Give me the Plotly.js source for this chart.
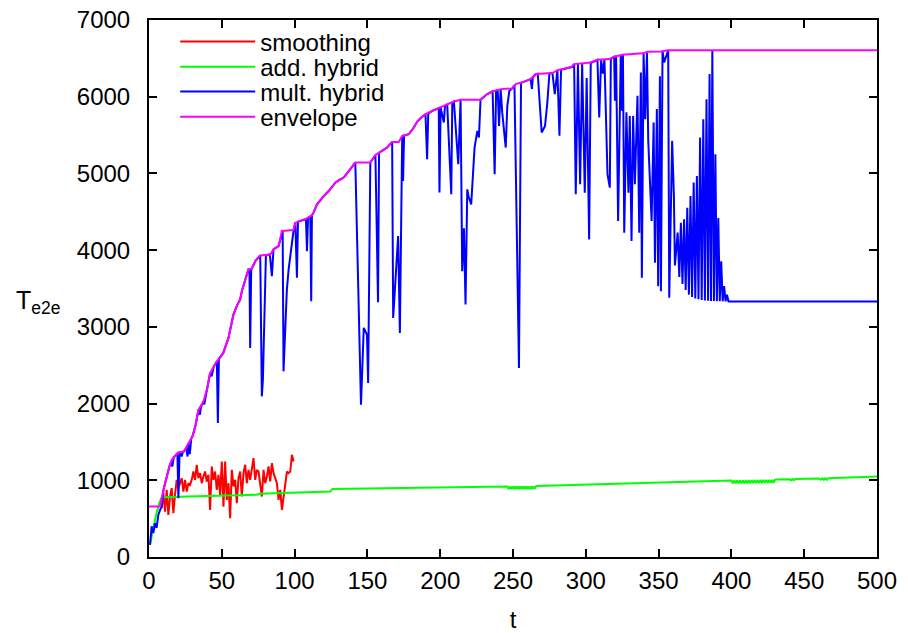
<!DOCTYPE html>
<html>
<head>
<meta charset="utf-8">
<script src="https://cdn.plot.ly/plotly-3.0.1.min.js"></script>
<style>html,body{margin:0;padding:0;background:#fff;}#chart{width:908px;height:633px;}</style>
</head>
<body>
<div id="chart"></div>
<script>
// smoothing (red): sampled from t0 with step dt
const smoothT0 = 8.7;
const smoothDt = 1.147;
const smoothV = [636,831,592,875,549,788,897,570,810,1006,897,962,1027,853,1006,853,962,940,1006,1114,
1006,1202,1027,1093,962,1049,1114,984,1071,614,1180,1006,1114,875,1071,810,1245,657,1245,744,
962,505,1136,919,1006,701,1027,1114,788,1093,1202,962,1136,1006,1158,1289,1006,1136,1114,962,
788,1136,962,1049,1180,984,1223,1093,1027,962,744,875,614,788,984,1114,1093,1114,1332,1245];

// add. hybrid (green)
const addT = [0.7,3,5,7,8.7,20,40,60,74,76,100,124.5,126,150,200,246,
246.9,247.8,248.7,249.6,250.5,251.4,252.3,253.2,254.1,255,255.9,256.8,257.7,258.6,259.5,260.4,261.3,262.2,263.1,264,264.9,265.8,
266.7,300,350,400,
401,402,403,404,405,406,407,408,409,410,411,412,413,414,415,416,417,418,419,420,421,422,423,424,425,426,427,428,429,430,
431,440,441,442,443,444,460,461.5,462.5,463.5,464.5,465.5,466.5,500];
const addV = [160,396,560,700,780,785,795,805,812,825,838,853,888,895,908,918,
885,918,885,918,885,918,885,918,885,918,885,919,886,919,886,920,887,920,887,921,888,922,
927,945,968,996,
960,997,960,998,961,998,961,999,962,1000,962,1000,963,1001,963,1002,964,1002,964,1003,965,1004,966,1004,966,1005,967,1006,968,1007,
1010,1014,1000,1015,1000,1016,1024,1006,1025,1007,1026,1007,1027,1049];

// mult. hybrid (blue)
const multT = [0.7,1.8,3,4.1,5.2,6.4,7.6,8.7,10,12,14,15,16,17,18.5,19.5,20.2,21,22,22.5,23.2,24,25.5,26.5,27,28,29,30,32,34,35,35.6,37.4,38,38.6,40,
42,43,43.6,44.5,46.6,47.3,48,51,54.6,56,58,60.5,62.6,64,66,68.3,69,69.5,70.2,70.6,73,76.4,77.5,78.2,80.3,83,84.4,85.5,89,91.3,91.8,92.4,93.2,94.7,95.9,98.2,99.3,
100.5,101.6,102.3,103.9,107.8,108.5,109.2,110.8,111.4,111.9,113,115.4,118,120,123.4,126,128,131,133.7,136,138.3,141.7,145.6,147.5,149.7,150.5,152,155.5,157.3,158,
160.1,163.5,167,167.7,171.1,172.3,173.9,174.5,175.2,178.4,181.9,184.2,187,189.9,191,191.8,194.5,199,199.5,200.3,202.5,203.3,204.8,207.6,208.3,209.4,212.4,213.5,214,
215.1,216.3,217.4,218.6,219.5,221.3,223.6,225.5,226.6,227.7,232.3,236,237.4,238.4,239.5,240.4,241.5,242.6,245,246.1,247.5,249.5,251,254.1,255.5,257.5,262.1,263,263.6,
265.6,267,269.7,272,273.6,275,277.1,278.7,280.5,281.9,283,289.7,290.8,292,293.1,294.6,296.1,297.5,299.3,300.6,302.3,303.4,304.7,308,309.2,310.5,311.7,312.8,314.9,316.5,317.2,
319.5,320,320.8,322.2,324,324.8,325.5,326.4,327.9,329.3,330.2,331.4,332.5,333.7,335.5,336.7,337.8,338.5,339.7,340.8,342,342.9,344,345.2,346.6,347.5,348.8,349.7,350.9,351.6,352.7,353.8,356.6,
357.3,359.3,360.5,361.2,362.2,363.1,364.2,365.3,366.4,367.5,368.6,369.7,370.8,371.9,373,374.1,375.2,376.3,377.4,378.5,379.6,380.7,381.8,382.9,384,385,
386,386.9,388,389,390,391,392,393,394,395,396,397,398,399.5,500];
const multV = [157,400,313,440,380,548,614,657,880,1050,1180,1230,1180,1300,1330,1350,766,1362,1365,1310,1368,1375,1420,1310,1485,1340,1540,1580,1720,1920,1855,1950,2028,1990,2060,2200,
2399,2355,2430,2480,2551,1746,2580,2660,2856,2990,3160,3280,3356,3480,3618,3748,3750,2726,3755,3757,3857,3931,2094,2300,3935,3944,3660,4010,4052,4249,4250,2420,2900,3487,3748,4097,4262,
4358,3640,4370,4380,4405,3987,4415,4440,3334,4453,4489,4597,4660,4705,4771,4830,4880,4920,4946,5000,5054,5142,1985,2987,2900,2268,5142,5241,3322,5270,
5293,5337,5411,3117,4183,2921,5489,4901,5495,5511,5599,5677,5730,5772,5185,5780,5815,5850,4750,5860,5664,5880,5903,4728,5925,5938,5119,5955,5959,
3726,4284,3291,4793,4700,4597,5337,5554,5468,5960,6034,6070,4989,6080,6085,5620,6099,5795,5337,5881,6077,6108,6150,2464,6180,6194,6230,6100,6250,
6295,6300,5533,5620,5925,6305,6308,6034,6347,5490,6352,6382,6390,6425,4728,6428,4858,6430,4750,6243,4140,6447,6450,6482,5729,6482,6300,6488,4989,4815,6495,
6521,5947,6530,4379,6540,5816,6547,4228,5797,4750,5750,4118,5750,4858,6011,4228,6317,3639,6565,5707,6575,5424,4924,4379,5664,3836,5841,3530,6268,3465,6595,6447,6605,
3380,5424,4706,3800,4097,4228,3650,4358,3560,4401,3480,4553,3420,4705,3390,4880,3370,4967,3360,5468,3350,5707,3345,5968,3340,6295,
3338,6600,3336,5250,3335,4420,3334,3854,3333,3530,3332,3420,3331,3330,3330];

// envelope (magenta)
const envT = [0,7.5,10,12,14,15.6,17,20,24,27,30,32,34,37.4,40,42,44.5,46.6,51,54.6,56,58,60.5,62.6,64,66,68.3,70.6,73,76.4,83.3,85.5,89,91.3,99.3,100.5,103.9,108,111.9,113,115.4,
118,120,123.4,126,128,131,133.7,136,138.3,141.7,152,155.5,158,160.1,163.5,167,171.5,173.9,178.4,181.9,184.2,187,189.9,194.5,199,204.8,209.4,214,227.7,232.3,236,241.5,249.5,251.8,
257.5,262.1,265.6,277.1,280.5,284,289.7,292,296.5,303.4,308,316,319.5,325.2,339,342.4,351.6,356.2,500];
const envV = [657,657,880,1050,1180,1267,1300,1362,1375,1485,1580,1720,1920,2028,2200,2399,2480,2551,2660,2856,2990,3160,3280,3356,3480,3618,3748,3757,3857,3931,3944,4010,4052,4249,4262,4358,4380,4410,4453,4489,4597,
4660,4705,4771,4830,4880,4920,4946,5000,5054,5142,5142,5241,5270,5293,5337,5411,5411,5489,5511,5599,5677,5730,5772,5815,5850,5903,5938,5959,5960,6034,6070,6099,6108,6164,
6194,6230,6295,6308,6347,6360,6382,6425,6430,6447,6482,6491,6521,6547,6565,6586,6591,6605,6605];

const seriesNames = ['smoothing','add. hybrid','mult. hybrid','envelope'];
const seriesColors = ['#ff0000','#00ff00','#0000ff','#ff00ff'];
const xTicks = [0,50,100,150,200,250,300,350,400,450,500];
const yTicks = [0,1000,2000,3000,4000,5000,6000,7000];

const FONT = 'Liberation Sans, Arial, Helvetica, sans-serif';
const legendIds = ['legend','legend2','legend3','legend4'];

const traces = [
  {type:'scatter', mode:'lines', name:seriesNames[0], legend:legendIds[0], x0:smoothT0, dx:smoothDt, y:smoothV, line:{color:seriesColors[0], width:2}},
  {type:'scatter', mode:'lines', name:seriesNames[1], legend:legendIds[1], x:addT, y:addV, line:{color:seriesColors[1], width:2}},
  {type:'scatter', mode:'lines', name:seriesNames[2], legend:legendIds[2], x:multT, y:multV, line:{color:seriesColors[2], width:2}},
  {type:'scatter', mode:'lines', name:seriesNames[3], legend:legendIds[3], x:envT, y:envV, line:{color:seriesColors[3], width:2}}
];

const axisCommon = {
  showline:true, linecolor:'#000', linewidth:2, mirror:'ticks',
  ticks:'inside', ticklen:8, tickwidth:2, tickcolor:'#000',
  showgrid:false, zeroline:false,
  tickfont:{family:FONT, size:24, color:'#000'}
};

function legendAt(yPaper) {
  return {x:0.036, y:yPaper, xanchor:'left', yanchor:'middle', bgcolor:'rgba(0,0,0,0)',
          font:{family:FONT, size:24, color:'#000'}, itemwidth:75};
}

const layout = {
  width:908, height:633,
  margin:{l:149, r:31, t:20, b:76},
  paper_bgcolor:'#fff', plot_bgcolor:'#fff',
  showlegend:true,
  legend:legendAt(0.959),
  legend2:legendAt(0.912),
  legend3:legendAt(0.866),
  legend4:legendAt(0.819),
  xaxis:Object.assign({}, axisCommon, {range:[0,500], tickvals:xTicks, ticklabelstandoff:1,
          title:{text:'t', font:{family:FONT, size:24, color:'#000'}, standoff:20}}),
  yaxis:Object.assign({}, axisCommon, {range:[0,7000], tickvals:yTicks, ticklabelstandoff:12}),
  annotations:[{xref:'paper', yref:'paper', x:-0.152, y:0.475, xanchor:'center', yanchor:'middle',
    text:'T<sub>e2e</sub>', showarrow:false, font:{family:FONT, size:25, color:'#000'}}]
};

Plotly.newPlot('chart', traces, layout, {displayModeBar:false, staticPlot:true});
</script>
</body>
</html>
